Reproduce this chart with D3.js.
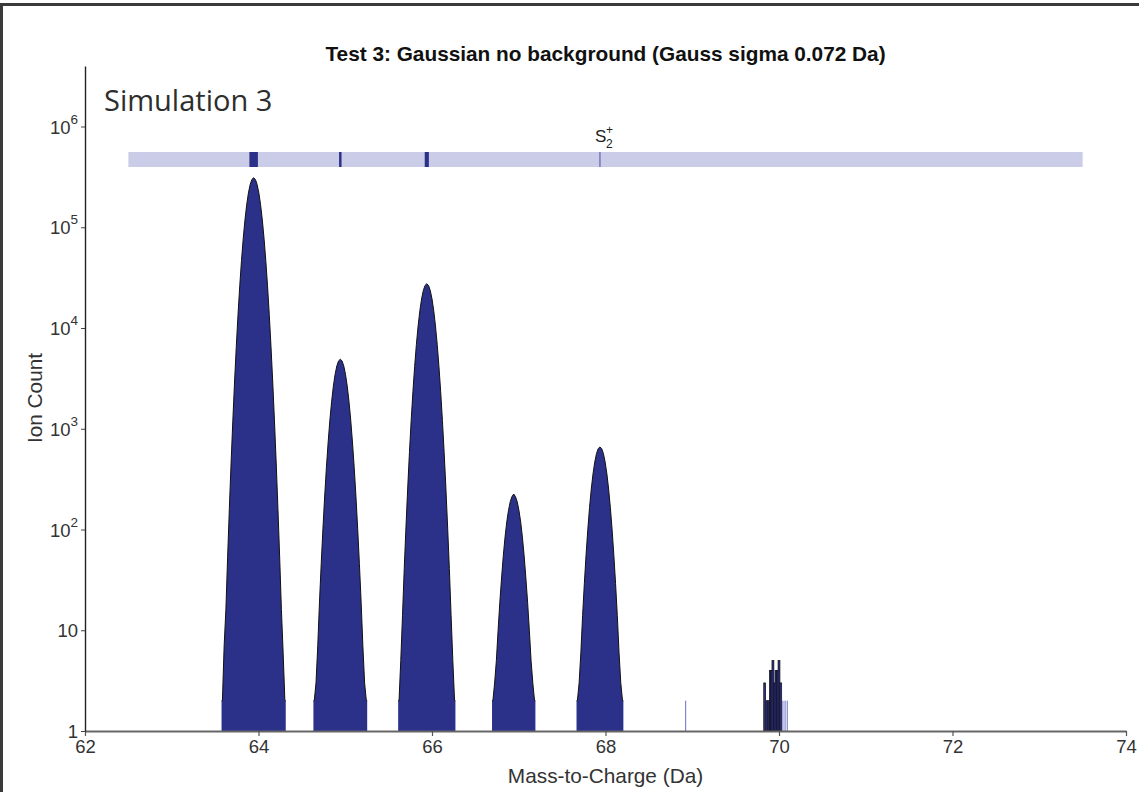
<!DOCTYPE html>
<html><head><meta charset="utf-8">
<script src="https://cdn.jsdelivr.net/npm/d3@7"></script>
<style>body{margin:0;background:#fff}svg{display:block}</style>
</head><body><svg id="c" width="1139" height="792"></svg>
<script>
// ---------------- data ----------------
const chartTitle = "Test 3: Gaussian no background (Gauss sigma 0.072 Da)";
const panelLabel = "Simulation 3";
const xLabel = "Mass-to-Charge (Da)";
const yLabel = "Ion Count";
const xTicks = [62, 64, 66, 68, 70, 72, 74];
const yTicks = [1, 10, 100, 1000, 10000, 100000, 1000000];
const binWidth = 0.02; // Da
// peak centres (Da) and ion counts per bin (left to right around the centre)
const peakCenters = [63.944, 64.943, 65.940, 66.942, 67.936];
const peak64 = [2,7,16,53,161,457,1198,2910,6540,13620,26240,46800,77300,118200,167200,219100,265700,298300,310000,298300,265700,219100,167200,118200,77300,46800,26240,13620,6540,2910,1198,457,161,53,16,6,2];
const peak65 = [2,3,7,19,46,103,215,415,740,1222,1868,2643,3463,4199,4715,4900,4715,4199,3463,2643,1868,1222,740,415,215,103,46,19,7,3,2];
const peak66 = [2,5,14,41,106,258,581,1208,2330,4150,6860,10480,14830,19430,23570,26460,27500,26460,23570,19430,14830,10480,6860,4150,2330,1208,581,258,106,41,14,5,2];
const peak67 = [2,3,5,10,19,33,55,84,119,155,189,212,225,212,189,155,119,84,55,33,19,10,5,3,2];
const peak68 = [2,3,6,14,29,56,100,165,252,356,466,566,635,660,635,566,466,356,252,165,100,56,29,14,6,3,2];
const peakCounts = [peak64, peak65, peak66, peak67, peak68];
// isolated noise bins
const noiseMz = [69.835, 69.862, 69.885, 69.900, 69.915, 69.930, 69.950, 69.965, 69.980, 70.000, 70.020];
const noiseCounts = [3, 2, 2, 4, 4, 5, 3, 4, 4, 5, 3];
const sparseMz = [68.924, 70.045, 70.070, 70.095];
const sparseCounts = [2, 2, 2, 2];
// ion range band
const bandRange = [62.5, 73.5];
const bandIons = [63.944, 64.943, 65.940, 67.936];
const bandAbundance = [1, 0.0158, 0.0895, 0.002];
const ionLabelMz = 67.936;

// ---------------- drawing ----------------
const svg = d3.select("#c");
const W = 1139, H = 792;
const m = {l: 85, r: 1126, t: 66, b: 731};
const navy = "#2b3088";
const font = "Liberation Sans, Arial, sans-serif";

const x = d3.scaleLinear().domain([62, 74]).range([m.l, m.r]);
const y = d3.scaleLog().domain([1, Math.pow(10, (m.b - m.t) / 100.75)]).range([m.b, m.t]);

// frame
svg.append("path").attr("d", `M1.5,${H + 5} V4.5 H${W + 5}`)
  .attr("fill", "none").attr("stroke", "#3a3a3a").attr("stroke-width", 3);

// peaks
const area = d3.area().x(d => x(d[0])).y0(y(1)).y1(d => y(Math.max(1, d[1])));
const line = d3.line().x(d => x(d[0])).y(d => y(Math.max(1, d[1])));
peakCounts.forEach((counts, i) => {
  const K = (counts.length - 1) / 2;
  const c = peakCenters[i];
  const pts = counts.map((v, k) => [c + (k - K) * binWidth, v]);
  const e0 = pts[0][0] - binWidth / 2, e1 = pts[pts.length - 1][0] + binWidth / 2;
  const pts2 = [[e0, 1], [e0, counts[0]], ...pts, [e1, counts[counts.length - 1]], [e1, 1]];
  svg.append("path").datum(pts2).attr("d", area).attr("fill", navy);
  svg.append("path").datum(pts2.slice(1, -1)).attr("d", line).attr("fill", "none")
    .attr("stroke", "#111").attr("stroke-width", 1);
});

// noise bins
svg.selectAll("rect.noise").data(noiseMz.map((v, i) => [v, noiseCounts[i]])).enter()
  .append("rect").attr("class", "noise")
  .attr("x", d => x(d[0] - 0.011)).attr("width", d => x(d[0] + 0.011) - x(d[0] - 0.011))
  .attr("y", d => y(d[1])).attr("height", d => y(1) - y(d[1]))
  .attr("fill", navy).attr("stroke", "#111").attr("stroke-width", 0.7);
svg.selectAll("line.sparse").data(sparseMz.map((v, i) => [v, sparseCounts[i]])).enter()
  .append("line").attr("class", "sparse")
  .attr("x1", d => x(d[0])).attr("x2", d => x(d[0]))
  .attr("y1", d => y(d[1])).attr("y2", y(1))
  .attr("stroke", "#6a6fc0").attr("stroke-width", 1);

// band
const bandTop = 152, bandH = 15;
svg.append("rect").attr("x", x(bandRange[0])).attr("y", bandTop)
  .attr("width", x(bandRange[1]) - x(bandRange[0])).attr("height", bandH)
  .attr("fill", "#cbcce7");
svg.selectAll("rect.ion").data(bandIons.map((v, i) => [v, bandAbundance[i]])).enter()
  .append("rect").attr("class", "ion")
  .attr("x", d => x(d[0]) - Math.max(1, 8.5 * Math.pow(d[1], 0.3)) / 2)
  .attr("width", d => Math.max(1, 8.5 * Math.pow(d[1], 0.3)))
  .attr("y", bandTop).attr("height", bandH)
  .attr("fill", navy).attr("opacity", d => d[1] < 0.01 ? 0.6 : 1);

// ion label S2+
const lab = svg.append("g").attr("transform", `translate(${x(ionLabelMz) - 5},142)`)
  .attr("font-family", font).attr("fill", "#222");
lab.append("text").attr("x", 0).attr("y", 0).attr("font-size", 17).text("S");
lab.append("text").attr("x", 11).attr("y", 6).attr("font-size", 12).text("2");
lab.append("text").attr("x", 11).attr("y", -8).attr("font-size", 12).text("+");

// axes
const xAxis = svg.append("g").attr("transform", `translate(0,${m.b})`)
  .call(d3.axisBottom(x).tickValues(xTicks).tickSize(5).tickSizeOuter(0).tickPadding(4));
xAxis.select(".domain").attr("stroke", "#666").attr("stroke-width", 2);
xAxis.selectAll(".tick line").attr("stroke", "#555").attr("stroke-width", 1.2);
xAxis.selectAll("text").attr("font-family", font).attr("font-size", 18.5).attr("fill", "#333");

const yAxis = svg.append("g").attr("transform", `translate(${m.l},0)`)
  .call(d3.axisLeft(y).tickValues(yTicks).tickSize(4).tickSizeOuter(0).tickPadding(3).tickFormat(() => ""));
yAxis.select(".domain").attr("stroke", "#222").attr("stroke-width", 1.4);
yAxis.selectAll(".tick line").attr("stroke", "#444");
yAxis.selectAll(".tick text").each(function(v) {
  const t = d3.select(this).attr("font-family", font)
    .attr("font-size", 18.5).attr("fill", "#333").attr("dy", "0.36em");
  if (v <= 10) { t.text(String(v)); }
  else {
    t.append("tspan").text("10");
    t.append("tspan").attr("font-size", 13.5).attr("dy", "-0.75em").text(String(Math.round(Math.log10(v))));
  }
});

// titles
svg.append("text").attr("x", (m.l + m.r) / 2).attr("y", 61).attr("text-anchor", "middle")
  .attr("font-family", font).attr("font-weight", "bold")
  .attr("font-size", 20.8).attr("fill", "#111").text(chartTitle);
svg.append("text").attr("x", (m.l + m.r) / 2).attr("y", 783).attr("text-anchor", "middle")
  .attr("font-family", font).attr("font-size", 20.8)
  .attr("fill", "#333").text(xLabel);
svg.append("text").attr("transform", `translate(42,${398}) rotate(-90)`).attr("text-anchor", "middle")
  .attr("font-family", font).attr("font-size", 20.8)
  .attr("fill", "#333").text(yLabel);
svg.append("text").attr("x", 104).attr("y", 111)
  .attr("font-family", "Open Sans, sans-serif").attr("font-size", 29)
  .attr("fill", "#2d2d2d").text(panelLabel);
</script></body></html>
